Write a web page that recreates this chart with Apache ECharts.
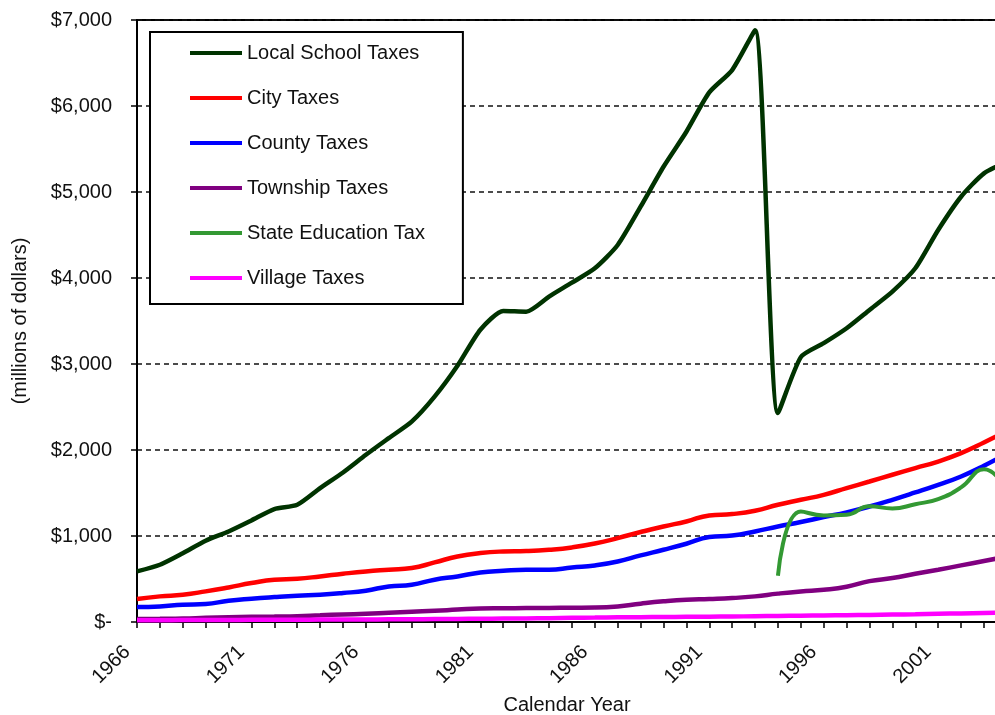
<!DOCTYPE html>
<html>
<head>
<meta charset="utf-8">
<title>Property taxes by type</title>
<script src="https://cdn.jsdelivr.net/npm/echarts@6/dist/echarts.min.js"></script>
<style>
html, body { margin: 0; padding: 0; background: #fff; }
#chart { width: 995px; height: 715px; }
</style>
</head>
<body>
<div id="chart"></div>
<script>
// calendar years on the x axis
var years = [1966, 1967, 1968, 1969, 1970, 1971, 1972, 1973, 1974, 1975,
             1976, 1977, 1978, 1979, 1980, 1981, 1982, 1983, 1984, 1985,
             1986, 1987, 1988, 1989, 1990, 1991, 1992, 1993, 1994, 1995,
             1996, 1997, 1998, 1999, 2000, 2001, 2002, 2003, 2004];
var yearLabels = [1966, 1971, 1976, 1981, 1986, 1991, 1996, 2001];

// millions of dollars
var localSchool = [588, 666, 800, 945, 1053, 1181, 1313, 1363, 1557, 1739,
                   1944, 2138, 2330, 2621, 2980, 3399, 3617, 3609, 3784, 3946,
                   4113, 4384, 4829, 5294, 5701, 6158, 6418, 6880, 2430, 3080,
                   3242, 3416, 3629, 3842, 4113, 4559, 4945, 5217, 5350];
var city = [267, 298, 317, 356, 402, 453, 492, 503, 530, 561,
            588, 608, 627, 693, 762, 802, 820, 825, 840, 867,
            912, 976, 1046, 1111, 1169, 1239, 1255, 1293, 1363, 1421,
            1479, 1557, 1634, 1712, 1790, 1866, 1964, 2087, 2220];
var county = [174, 181, 201, 209, 247, 271, 290, 306, 317, 337,
              364, 414, 433, 492, 530, 576, 596, 608, 608, 634,
              658, 704, 774, 840, 910, 988, 1006, 1053, 1111, 1162,
              1220, 1274, 1343, 1421, 1506, 1595, 1692, 1816, 1960];
var township = [35, 37, 40, 48, 55, 60, 63, 67, 78, 88,
                95, 108, 120, 130, 145, 158, 160, 162, 164, 166,
                168, 181, 213, 240, 259, 267, 278, 298, 330, 356,
                375, 410, 475, 511, 561, 608, 658, 709, 760];
var stateEducation = [null, null, null, null, null, null, null, null, null, null,
                      null, null, null, null, null, null, null, null, null, null,
                      null, null, null, null, null, null, null, null, 538, 1285,
                      1239, 1247, 1345, 1320, 1370, 1430, 1565, 1775, 1540];
var village = [20, 21, 22, 23, 24, 25, 26, 27, 28, 29,
               30, 31, 32, 34, 36, 38, 40, 42, 45, 48,
               51, 54, 56, 58, 60, 62, 64, 67, 70, 73,
               76, 79, 82, 86, 90, 95, 100, 106, 112];

var FONT = "'Liberation Sans', Arial, sans-serif";

function pairs(values) {
    var out = [];
    for (var i = 0; i < years.length; i++) {
        if (values[i] != null) out.push([years[i], values[i]]);
    }
    return out;
}

function line(name, color, values, width, smooth) {
    return {
        name: name,
        type: 'line',
        data: pairs(values),
        smooth: smooth,
        symbol: 'none',
        lineStyle: { color: color, width: width },
        itemStyle: { color: color }
    };
}

var option = {
    animation: false,
    backgroundColor: '#fff',
    textStyle: { fontFamily: FONT },
    grid: {
        left: 137,
        top: 20,
        right: -2,
        bottom: 93,
        show: true,
        borderColor: '#000',
        borderWidth: 2,
        outerBoundsMode: 'none'
    },
    legend: {
        orient: 'vertical',
        left: 150,
        top: 32,
        icon: 'rect',
        itemWidth: 52,
        itemHeight: 4,
        itemGap: 23,
        padding: [10, 38, 15, 40],
        borderColor: '#000',
        borderWidth: 2,
        backgroundColor: '#fff',
        textStyle: { fontFamily: FONT, fontSize: 20, color: '#111', lineHeight: 22 }
    },
    xAxis: {
        type: 'value',
        min: 1966,
        max: 2003.57,
        interval: 1,
        name: 'Calendar Year',
        nameLocation: 'middle',
        nameGap: 73,
        nameTextStyle: { fontFamily: FONT, fontSize: 20, color: '#111' },
        axisLine: { lineStyle: { color: '#000', width: 2 } },
        axisTick: { length: 6, lineStyle: { color: '#000', width: 1.5 } },
        axisLabel: {
            rotate: 45,
            margin: 17,
            padding: [0, 14, 0, 0],
            fontFamily: FONT,
            fontSize: 20,
            color: '#111',
            formatter: function (v) {
                return yearLabels.indexOf(v) >= 0 ? String(v) : '';
            }
        },
        splitLine: { show: false }
    },
    yAxis: {
        type: 'value',
        min: 0,
        max: 7000,
        interval: 1000,
        name: '(millions of dollars)',
        nameLocation: 'middle',
        nameGap: 107,
        nameTextStyle: { fontFamily: FONT, fontSize: 20, color: '#111' },
        axisLine: { show: true, lineStyle: { color: '#000', width: 2 } },
        axisTick: { show: true, length: 6, lineStyle: { color: '#000', width: 1.5 } },
        axisLabel: {
            margin: 25,
            fontFamily: FONT,
            fontSize: 20,
            color: '#111',
            formatter: function (v) {
                return v === 0 ? '$-' : '$' + v.toLocaleString('en-US');
            }
        },
        splitLine: { show: true, lineStyle: { color: '#111', width: 1.5, type: [5, 4] } }
    },
    series: [
        line('Local School Taxes', '#003300', localSchool, 4.5, 0.22),
        line('City Taxes', '#ff0000', city, 4.5, 0.5),
        line('County Taxes', '#0000ff', county, 4.5, 0.5),
        line('Township Taxes', '#800080', township, 4.5, 0.5),
        line('State Education Tax', '#339933', stateEducation, 4, 0.5),
        line('Village Taxes', '#ff00ff', village, 4.5, 0.5)
    ]
};

window.onload = function () {
    var chart = echarts.init(document.getElementById('chart'));
    chart.setOption(option);
};
</script>
</body>
</html>
